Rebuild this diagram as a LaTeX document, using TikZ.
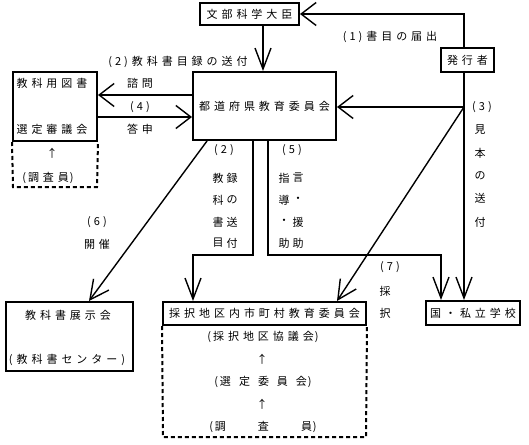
\documentclass[tikz,border=0pt]{standalone}
\usepackage{fontspec}
\newfontfamily\jp[LetterSpace=36]{Noto Sans CJK JP}
\usetikzlibrary{arrows.meta}
\newcommand\pn[1]{(\hspace{3pt}#1\hspace{3pt})}
\begin{document}
\begin{tikzpicture}[x=1pt,y=-1pt,
  txt/.style={inner sep=0pt,font=\jp\fontsize{11}{13}\selectfont},
  box/.style={txt,draw,line width=2pt},
  dashline/.style={line width=2pt,dash pattern=on 4pt off 3pt},
  conn/.style={line width=1.4pt},
  harr/.style={conn,-{Straight Barb[length=15pt,width=23pt]}},
  varr/.style={conn,-{Straight Barb[length=21pt,width=16pt]}},
  darr/.style={conn,-{Straight Barb[length=19pt,width=19pt]}}
]
\useasboundingbox (0,0) rectangle (529,444);

% boxes
\node[box,minimum width=99pt,minimum height=22pt] (mext) at (249.5,14) {文部科学大臣};
\node[box,minimum width=53pt,minimum height=24pt] (pub) at (467.5,60) {発行者};
\node[box,minimum width=143pt,minimum height=68pt] (pref) at (264.5,106) {都道府県教育委員会};
\node[box,minimum width=84pt,minimum height=69pt] (council) at (55,106.5) {};
\node[box,minimum width=127pt,minimum height=69pt] (tenji) at (69.5,336.5) {};
\node[box,minimum width=203pt,minimum height=23pt] (saitaku) at (264.5,313.5) {採択地区内市町村教育委員会};
\node[box,minimum width=94pt,minimum height=24pt] (koku) at (473,313) {国・私立学校};

% dashed extensions
\coordinate (cdl) at (13,187);
\coordinate (cdr) at (97,187);
\draw[dashline] (council.south west) -- (cdl) -- (cdr) -- (council.south east);
\coordinate (sdl) at (163,437);
\coordinate (sdr) at (366,437);
\draw[dashline] (saitaku.south west) -- (sdl) -- (sdr) -- (saitaku.south east);

% texts inside boxes
\node[txt] (c1) at (52,83) {教科用図書};
\node[txt] (c2) at (52,129) {選定審議会};
\node[txt] (c3) at (52,153) {↑};
\node[txt] (c4) at (48,178) {(\hspace{2pt}調査員\hspace{1pt})};
\node[txt] (t1) at (68,315) {教科書展示会};
\node[txt] (t2) at (67,360) {(教科書センター)};
\node[txt] (s1) at (263,337) {(\hspace{2pt}採択地区協議会\hspace{1pt})};
\node[txt] (s2) at (262,359) {↑};
\node[txt] (s3) at (263,382) {(\hspace{2pt}選\hspace{8pt}定\hspace{8pt}委\hspace{8pt}員\hspace{8pt}会\hspace{1pt})};
\node[txt] (s4) at (262,404) {↑};
\node[txt] (s5) at (263,427) {(\hspace{2pt}調\hspace{32pt}査\hspace{32pt}員\hspace{1pt})};

% connectors
\coordinate (xP) at (464,0);
\draw[harr] (pub.north -| xP) |- (mext.east);
\coordinate (x263) at (263,0);
\draw[varr] (mext.south -| x263) -- (pref.north -| x263);
\draw[varr] (pub.south -| xP) -- (koku.north -| xP);
\coordinate (j3) at (464,107);
\draw[harr] (j3) -- (j3 -| pref.east);
\coordinate (xS) at (337,0);
\draw[darr] (j3) -- (saitaku.north -| xS);
\coordinate (y95) at (0,95);
\coordinate (y117) at (0,117);
\draw[harr] (pref.west |- y95) -- (council.east |- y95);
\draw[harr] (council.east |- y117) -- (pref.west |- y117);
\coordinate (x207) at (207,0);
\coordinate (x89) at (89,0);
\draw[darr] (pref.south -| x207) -- (tenji.north -| x89);
\coordinate (k1) at (253,255);
\coordinate (k2) at (268,255);
\coordinate (x193) at (193,0);
\coordinate (x441) at (441,0);
\draw[varr] (pref.south -| k1) -- (k1) -| (saitaku.north -| x193);
\draw[varr] (pref.south -| k2) -- (k2) -| (koku.north -| x441);

% labels
\node[txt] (l1) at (390,37) {\pn{1}書目の届出};
\node[txt] (l2) at (178,62) {\pn{2}教科書目録の送付};
\node[txt] (l3) at (140,83) {諮問};
\node[txt] (l4) at (140,107) {\pn{4}};
\node[txt] (l5) at (140,129) {答申};

\node[txt] (m0) at (224,150) {\pn{2}};
\node[txt] (m1) at (218,178) {教};
\node[txt] (m2) at (218,200) {科};
\node[txt] (m3) at (218,222) {書};
\node[txt] (m4) at (218,243) {目};
\node[txt] (m5) at (232,178) {録};
\node[txt] (m6) at (232,200) {の};
\node[txt] (m7) at (232,222) {送};
\node[txt] (m8) at (232,243) {付};

\node[txt] (n0) at (292,150) {\pn{5}};
\node[txt] (n1) at (284,178) {指};
\node[txt] (n2) at (284,200) {導};
\node[txt] (n3) at (284,222) {・};
\node[txt] (n4) at (284,243) {助};
\node[txt] (n5) at (298,178) {言};
\node[txt] (n6) at (298,200) {・};
\node[txt] (n7) at (298,222) {援};
\node[txt] (n8) at (298,243) {助};

\node[txt] (p0) at (482,107) {\pn{3}};
\node[txt] (p1) at (480,130) {見};
\node[txt] (p2) at (480,153) {本};
\node[txt] (p3) at (480,176) {の};
\node[txt] (p4) at (480,198) {送};
\node[txt] (p5) at (480,222) {付};

\node[txt] (q0) at (97,222) {\pn{6}};
\node[txt] (q1) at (97,244) {開催};

\node[txt] (r0) at (390,267) {\pn{7}};
\node[txt] (r1) at (385,291) {採};
\node[txt] (r2) at (385,313) {択};
\end{tikzpicture}
\end{document}
